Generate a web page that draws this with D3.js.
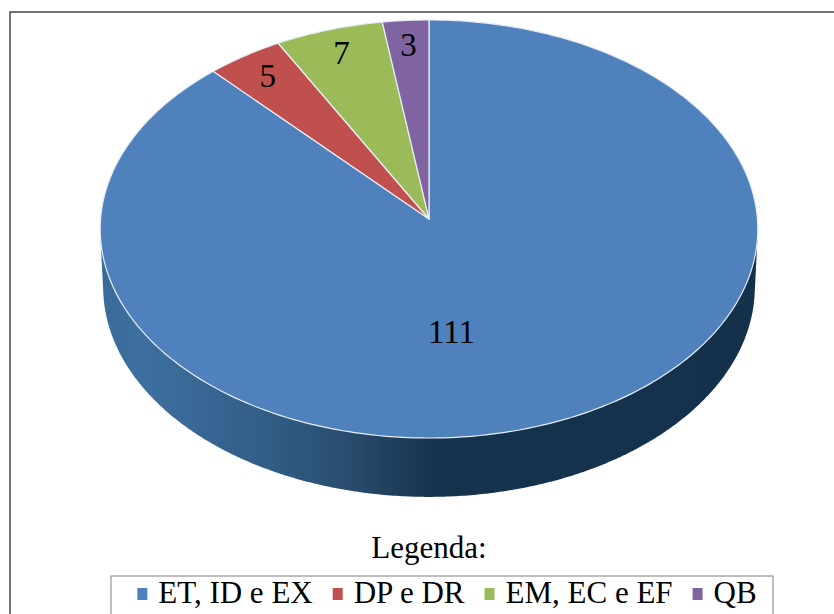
<!DOCTYPE html>
<html>
<head>
<meta charset="utf-8">
<script src="https://cdn.jsdelivr.net/npm/d3@7"></script>
<style>
  html, body { margin: 0; padding: 0; background: #fff; }
  svg { display: block; }
</style>
</head>
<body>
<svg id="chart" width="834" height="614"></svg>
<script>
// Chart data
const categories = ["ET, ID e EX", "DP e DR", "EM, EC e EF", "QB"];
const values = [111, 5, 7, 3];
const colors = ["#4f81bd", "#c0504d", "#9bbb59", "#8064a2"];
const legendTitle = "Legenda:";

const FONT = '"Liberation Serif"';
const svg = d3.select("#chart");

// Outer frame
svg.append("rect")
  .attr("x", 10).attr("y", 12)
  .attr("width", 840).attr("height", 640)
  .attr("fill", "none").attr("stroke", "#444").attr("stroke-width", 1.5);

// 3D projection of a unit disc seen from above with mild perspective
const cx = 429, cy = 219;          // projected centre of the top face
const focal = 5307, dist = 16.16;  // perspective
const tilt = Math.asin(0.635);     // elevation of the viewpoint
const sT = Math.sin(tilt), cT = Math.cos(tilt);
const thickness = 0.231;

function project(theta, k, y) {
  const X = k * Math.sin(theta);
  const D = k * Math.cos(theta);
  const u = D * sT + y * cT;
  const z = dist + D * cT - y * sT;
  return [cx + focal * X / z, cy - focal * u / z];
}

const pie = d3.pie().sort(null).value(d => d).startAngle(0).endAngle(2 * Math.PI);
const arcs = pie(values);

// Side wall gradient (light on the left, dark on the right)
const defs = svg.append("defs");
const grad = defs.append("linearGradient")
  .attr("id", "wall").attr("gradientUnits", "userSpaceOnUse")
  .attr("x1", 101).attr("y1", 0).attr("x2", 758).attr("y2", 0);
[[0, "#396a98"], [0.06, "#3d70a0"], [0.25, "#325d86"], [0.38, "#294c6e"],
 [0.45, "#1f3e5c"], [0.51, "#16334e"], [1, "#14304a"]]
  .forEach(([o, c]) => grad.append("stop").attr("offset", o).attr("stop-color", c));

// Cylinder silhouette: hull of top and bottom rims
const rimPts = [];
for (let i = 0; i < 720; i++) {
  const a = i / 720 * 2 * Math.PI;
  rimPts.push(project(a, 1, 0));
  rimPts.push(project(a, 1, -thickness));
}
const hull = d3.polygonHull(rimPts);
svg.append("path")
  .attr("d", "M" + hull.map(p => p.join(",")).join("L") + "Z")
  .attr("fill", "url(#wall)");

// Top face slices
function slicePath(d) {
  const pts = [project(0, 0, 0)];
  const n = Math.max(4, Math.ceil((d.endAngle - d.startAngle) / (Math.PI / 180)));
  for (let i = 0; i <= n; i++) {
    const a = d.startAngle + (d.endAngle - d.startAngle) * i / n;
    pts.push(project(a, 1, 0));
  }
  return d3.line()(pts) + "Z";
}

svg.append("g").selectAll("path")
  .data(arcs).join("path")
  .attr("d", slicePath)
  .attr("fill", (d, i) => colors[i])
  .attr("stroke", "#e8eef6")
  .attr("stroke-width", 1.2)
  .attr("stroke-linejoin", "round");

// Value labels on the top face: narrow slices near the rim,
// the dominant slice towards the front of the disc
svg.append("g").selectAll("text")
  .data(arcs).join("text")
  .each(function (d) {
    const big = (d.endAngle - d.startAngle) > Math.PI;
    const mid = (d.startAngle + d.endAngle) / 2;
    const p = big ? project(Math.PI * 0.96, 0.535, 0) : project(mid, 0.87, 0);
    d3.select(this).attr("x", p[0]).attr("y", p[1]);
  })
  .attr("text-anchor", "middle")
  .attr("dy", "0.33em")
  .style("font-family", FONT)
  .style("font-size", "33px")
  .text(d => d.value);

// Legend
svg.append("text")
  .attr("x", cx).attr("y", 558)
  .attr("text-anchor", "middle")
  .style("font-family", FONT)
  .style("font-size", "31px")
  .text(legendTitle);

svg.append("rect")
  .attr("x", 111).attr("y", 576)
  .attr("width", 662).attr("height", 60)
  .attr("fill", "#fff").attr("stroke", "#7f7f7f").attr("stroke-width", 1);

const lg = svg.append("g");
const items = lg.selectAll("g").data(categories).join("g");
items.append("rect")
  .attr("width", 10).attr("height", 12)
  .attr("y", -15)
  .attr("fill", (d, i) => colors[i]);
items.append("text")
  .attr("x", 21).attr("y", 0)
  .style("font-family", FONT)
  .style("font-size", "31px")
  .text(d => d);

let xPos = 0;
items.each(function () {
  const w = this.querySelector("text").getComputedTextLength() + 21;
  d3.select(this).attr("transform", `translate(${xPos},603)`);
  xPos += w + 20;
});
const totalW = xPos - 20;
lg.attr("transform", `translate(${447 - totalW / 2},0)`);
</script>
</body>
</html>
